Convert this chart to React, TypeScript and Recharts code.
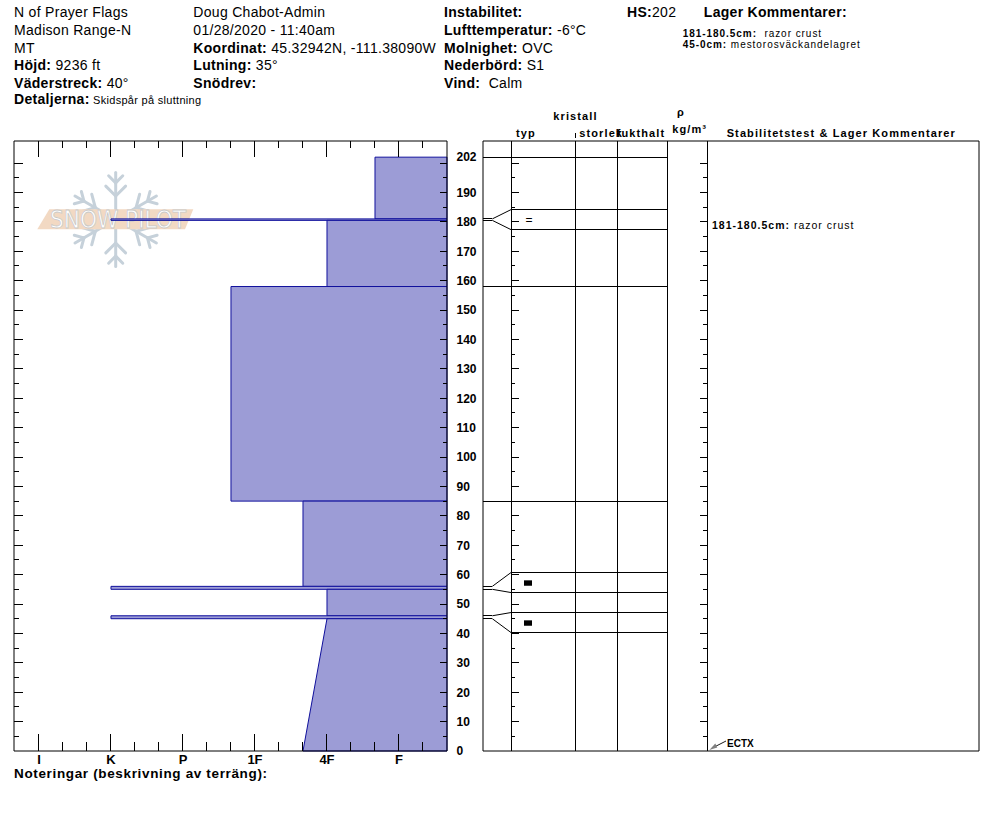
import React from 'react';
import { ComposedChart, XAxis, YAxis, ReferenceArea, ReferenceLine, Scatter } from 'recharts';

const FONT = '"Liberation Sans", Arial, Helvetica, sans-serif';
const INK = '#000000';
const LAYER_FILL = '#9c9cd6';
const LAYER_STROKE = '#10109c';

// ---------------- data ----------------
const snowDepth = 202;
const hardnessTicks = [1, 2, 3, 4, 5, 6, 7, 8, 9, 10, 11, 12, 13, 14, 15, 16, 17];
const hardnessLabelValues = [17, 14, 11, 8, 5, 2];
const hardnessLabels = ['I', 'K', 'P', '1F', '4F', 'F'];
const heightTicks = [5, 10, 15, 20, 25, 30, 35, 40, 45, 50, 55, 60, 65, 70, 75, 80, 85, 90, 95, 100,
  105, 110, 115, 120, 125, 130, 135, 140, 145, 150, 155, 160, 165, 170, 175, 180, 185, 190, 195, 200];
const heightLabels = [0, 10, 20, 30, 40, 50, 60, 70, 80, 90, 100, 110, 120, 130, 140, 150, 160, 170, 180, 190];

// layers (cm) and hand hardness in steps (F-=1, F=2, F+=3, 4F-=4, 4F=5, 4F+=6 ... K=14, I=17)
const layerTop = [202, 181, 180.5, 158, 85, 56, 55, 46, 45];
const layerBottom = [181, 180.5, 158, 85, 56, 55, 46, 45, 0];
const hardnessAtTop = [3, 14, 5, 9, 6, 14, 5, 14, 5];
const hardnessAtBottom = [3, 14, 5, 9, 6, 14, 5, 14, 6];
const grainSymbols = ['', '=', '', '', '', 'block', '', 'block', ''];

const stabilityTests = [{ height: 0, label: 'ECTX' }];
const tableComments = [{ top: 181, bottom: 180.5, text: 'razor crust' }];
const headerComments = [
  { range: '181-180.5cm:', text: '  razor crust' },
  { range: '45-0cm:', text: ' mestorosväckandelagret' },
];

const siteLines = ['N of Prayer Flags', 'Madison Range-N', 'MT'];
const siteFields = [['Höjd:', ' 9236 ft'], ['Väderstreck:', ' 40°']];
const observerLines = ['Doug Chabot-Admin', '01/28/2020 - 11:40am'];
const observerFields = [['Koordinat:', ' 45.32942N, -111.38090W'], ['Lutning:', ' 35°'], ['Snödrev:', '']];
const weatherFields = [['Instabilitet:', ''], ['Lufttemperatur:', ' -6°C'], ['Molnighet:', ' OVC'], ['Nederbörd:', ' S1'], ['Vind:', '  Calm']];

// ---------------- layout constants ----------------
const H_MAX = 207.5;
const HARD_MAX = 18.04;
const PLOT_H = 610;
const PX_PER_CM = PLOT_H / H_MAX;
const COL_TYP = 28, COL_SIZE = 92, COL_MOIST = 134, COL_RHO = 184, COL_STAB = 224, TABLE_W = 496;

// ---------------- ticks ----------------
const bottomTick = (p: any) => {
  const v = p.payload.value;
  const li = hardnessLabelValues.indexOf(v);
  return (
    <g>
      <line x1={p.x} x2={p.x} y1={p.y} y2={p.y - (li >= 0 ? 17 : 9)} stroke={INK} shapeRendering="crispEdges" />
      {li >= 0 && (
        <text x={p.x} y={p.y + 13.3} textAnchor="middle" fontFamily={FONT} fontWeight="bold" fontSize={13} fill={INK}>
          {hardnessLabels[li]}
        </text>
      )}
    </g>
  );
};
const topTick = (p: any) => {
  const major = hardnessLabelValues.includes(p.payload.value);
  return <line x1={p.x} x2={p.x} y1={p.y} y2={p.y + (major ? 16 : 7)} stroke={INK} shapeRendering="crispEdges" />;
};
const leftTick = (p: any) => {
  const v = p.payload.value;
  return <line x1={p.x} x2={p.x + (v % 10 === 0 ? 9 : 5)} y1={p.y} y2={p.y} stroke={INK} shapeRendering="crispEdges" />;
};
const rightTick = (p: any) => {
  const v = p.payload.value;
  const hasLine = heightTicks.includes(v);
  const hasLabel = heightLabels.includes(v) || v === snowDepth;
  return (
    <g>
      {hasLine && <line x1={p.x - (v % 10 === 0 ? 7 : 4)} x2={p.x} y1={p.y} y2={p.y} stroke={INK} shapeRendering="crispEdges" />}
      {hasLabel && (
        <text x={p.x + 9.5} y={p.y + 4.3} fontFamily={FONT} fontWeight="bold" fontSize={12} fill={INK}>{v}</text>
      )}
    </g>
  );
};

function LayerPolygon(p: any) {
  const { x, y, width, height, hTop, hBot, hMax } = p;
  const right = x + width;
  const topLeft = right - (width * hTop) / hMax;
  const botLeft = right - (width * hBot) / hMax;
  return (
    <polygon
      points={`${topLeft},${y} ${right},${y} ${right},${y + height} ${botLeft},${y + height}`}
      fill={LAYER_FILL}
      stroke={LAYER_STROKE}
      strokeWidth={1}
    />
  );
}

const axisCommon = { tickSize: 0, tickMargin: 0, tickLine: false, interval: 0 as const, allowDataOverflow: true };

function HardnessChart() {
  const anchors = layerTop.map((t, i) => ({ x: hardnessAtTop[i], y: t }));
  const rightTicks = Array.from(new Set([...heightLabels, ...heightTicks, snowDepth])).sort((a, b) => a - b);
  return (
    <ComposedChart width={500} height={800} margin={{ top: 140, left: 13, right: 52, bottom: 48 }} data={anchors}>
      <XAxis type="number" dataKey="x" domain={[0, HARD_MAX]} reversed orientation="bottom" height={1}
        ticks={hardnessTicks} {...axisCommon} axisLine={{ stroke: INK }} tick={bottomTick} />
      <XAxis xAxisId="t" type="number" dataKey="x" domain={[0, HARD_MAX]} reversed orientation="top" height={1}
        ticks={hardnessTicks} {...axisCommon} axisLine={{ stroke: INK }} tick={topTick} />
      <YAxis type="number" dataKey="y" domain={[0, H_MAX]} orientation="left" width={1}
        ticks={heightTicks} {...axisCommon} axisLine={{ stroke: INK }} tick={leftTick} />
      <YAxis yAxisId="r" type="number" dataKey="y" domain={[0, H_MAX]} orientation="right" width={1}
        ticks={rightTicks} {...axisCommon} axisLine={{ stroke: INK }} tick={rightTick} />
      {layerTop.map((top, i) => {
        const hTop = hardnessAtTop[i];
        const hBot = hardnessAtBottom[i];
        const hMax = Math.max(hTop, hBot);
        const sloped = hTop !== hBot;
        const props: any = {};
        if (sloped) props.shape = (sp: any) => <LayerPolygon {...sp} hTop={hTop} hBot={hBot} hMax={hMax} />;
        return (
          <ReferenceArea key={`layer-${i}`} x1={hMax} x2={0} y1={layerBottom[i]} y2={top}
            fill={LAYER_FILL} fillOpacity={1} stroke={LAYER_STROKE} strokeWidth={1} ifOverflow="visible" {...props} />
        );
      })}
      <Scatter dataKey="y" shape={() => <g />} isAnimationActive={false} />
    </ComposedChart>
  );
}

// bands for thin layers shown in the table: 20px tall, pushed apart to keep a 20px gap
function computeBands() {
  const idx = grainSymbols.map((g, i) => (g ? i : -1)).filter((i) => i >= 0);
  const half = 10 / PX_PER_CM;
  const minDist = 40 / PX_PER_CM;
  const centers = idx.map((i) => (layerTop[i] + layerBottom[i]) / 2);
  for (let k = 0; k < centers.length - 1; k++) {
    const d = centers[k] - centers[k + 1];
    if (d < minDist) {
      const push = (minDist - d) / 2;
      centers[k] += push;
      centers[k + 1] -= push;
    }
  }
  return idx.map((i, k) => ({ layer: i, center: centers[k], top: centers[k] + half, bottom: centers[k] - half }));
}

const grainShape = (p: any) => {
  const { cx, cy, payload } = p;
  if (payload.sym === 'block') return <rect x={cx - 4} y={cy - 2.2} width={8} height={5.4} fill={INK} />;
  return (
    <text x={cx + 1} y={cy + 4.5} textAnchor="middle" fontFamily={FONT} fontSize={12} fill={INK}>{payload.sym}</text>
  );
};
const stabilityShape = (p: any) => {
  const { cx, cy, payload } = p;
  const tx = cx + 2.3, ty = cy - 1;
  return (
    <g>
      <line x1={tx + 5} y1={ty - 3} x2={cx + 19} y2={cy - 10} stroke={INK} strokeWidth={0.9} />
      <polygon points={`${tx},${ty} ${tx + 6},${ty - 6.5} ${tx + 8},${ty - 2.5}`} fill="#808080" />
      <text x={cx + 20} y={cy - 4.3} fontFamily={FONT} fontWeight="bold" fontSize={10} fill={INK}>{payload.label}</text>
    </g>
  );
};
const commentShape = (p: any) => {
  const { cx, cy, payload } = p;
  return (
    <text x={cx} y={cy + 9.5} fontFamily={FONT} fontSize={10.5} letterSpacing={1} fill={INK} style={{ whiteSpace: 'pre' }}>
      <tspan fontWeight="bold">{`${payload.top}-${payload.bottom}cm:`}</tspan>
      <tspan>{` ${payload.text}`}</tspan>
    </text>
  );
};

function LayerTable() {
  const bands = computeBands();
  const bandEdges = new Set<number>();
  bands.forEach((b) => { bandEdges.add(layerTop[b.layer]); bandEdges.add(layerBottom[b.layer]); });
  const plainEdges = Array.from(new Set([...layerTop, ...layerBottom])).filter((h) => h > 0 && !bandEdges.has(h));

  const segs: Array<[number, number, number, number]> = [];
  plainEdges.forEach((h) => segs.push([0, h, COL_RHO, h]));
  bands.forEach((b) => {
    const t = layerTop[b.layer];
    const bo = layerBottom[b.layer];
    const knee = 9.3;
    segs.push([0, t, knee, t], [knee, t, COL_TYP, b.top], [COL_TYP, b.top, COL_RHO, b.top]);
    segs.push([0, bo, knee, bo], [knee, bo, COL_TYP, b.bottom], [COL_TYP, b.bottom, COL_RHO, b.bottom]);
  });
  heightTicks.forEach((h) => {
    segs.push([COL_TYP, h, COL_TYP + (h % 10 === 0 ? 8 : 4), h]);
    segs.push([COL_STAB - (h % 10 === 0 ? 7 : 4), h, COL_STAB, h]);
  });

  const grainPoints = bands.map((b) => ({ x: COL_TYP + 17, y: b.center, sym: grainSymbols[b.layer] }));
  const testPoints = stabilityTests.map((t) => ({ x: COL_STAB, y: t.height, label: t.label }));
  const commentPoints = tableComments.map((c) => ({ x: COL_STAB + 5, y: (c.top + c.bottom) / 2, ...c }));

  return (
    <ComposedChart width={520} height={800} margin={{ top: 140, left: 12, right: 10, bottom: 48 }} data={grainPoints}>
      <XAxis type="number" dataKey="x" domain={[0, TABLE_W]} orientation="bottom" height={1}
        {...axisCommon} tick={false} axisLine={{ stroke: INK }} />
      <XAxis xAxisId="t" type="number" dataKey="x" domain={[0, TABLE_W]} orientation="top" height={1}
        {...axisCommon} tick={false} axisLine={{ stroke: INK }} />
      <YAxis type="number" dataKey="y" domain={[0, H_MAX]} orientation="left" width={1}
        {...axisCommon} tick={false} axisLine={{ stroke: INK }} />
      <YAxis yAxisId="r" type="number" dataKey="y" domain={[0, H_MAX]} orientation="right" width={1}
        {...axisCommon} tick={false} axisLine={{ stroke: INK }} />
      {[COL_TYP, COL_SIZE, COL_MOIST, COL_RHO, COL_STAB].map((c) => (
        <ReferenceLine key={`col-${c}`} x={c} stroke={INK} strokeWidth={1} ifOverflow="visible" shapeRendering="crispEdges" />
      ))}
      {segs.map(([x1, y1, x2, y2], i) => (
        <ReferenceLine key={`seg-${i}`} segment={[{ x: x1, y: y1 }, { x: x2, y: y2 }]} stroke={INK} strokeWidth={1}
          ifOverflow="visible" shapeRendering={y1 === y2 ? 'crispEdges' : 'auto'} />
      ))}
      <Scatter data={grainPoints} dataKey="y" shape={grainShape} isAnimationActive={false} />
      <Scatter data={testPoints} dataKey="y" shape={stabilityShape} isAnimationActive={false} />
      <Scatter data={commentPoints} dataKey="y" shape={commentShape} isAnimationActive={false} />
    </ComposedChart>
  );
}

function Watermark() {
  const cx = 115.7, cy = 219.5, R = 47;
  const lines: Array<[number, number, number, number]> = [];
  [90, 30, 150, 210, 270, 330].forEach((a) => {
    const rad = (a * Math.PI) / 180;
    const ux = Math.cos(rad), uy = -Math.sin(rad);
    lines.push([cx + ux * 6, cy + uy * 6, cx + ux * R, cy + uy * R]);
    [[0.5, 14], [0.78, 10]].forEach(([f, L]) => {
      const bx = cx + ux * R * f, by = cy + uy * R * f;
      [45, -45].forEach((d) => {
        const r2 = rad + (d * Math.PI) / 180;
        lines.push([bx, by, bx + Math.cos(r2) * L, by - Math.sin(r2) * L]);
      });
    });
  });
  return (
    <svg width={994} height={840} style={{ position: 'absolute', left: 0, top: 0 }}>
      {lines.map(([a, b, c, d], i) => (
        <line key={i} x1={a} y1={b} x2={c} y2={d} stroke="#c6d1da" strokeWidth={3} strokeLinecap="round" />
      ))}
      <polygon points="49.3,209.3 193.3,209.3 185,229.3 37.3,229.3" fill="#f2d9c3" />
      <text x={50} y={227.5} fontFamily='"DejaVu Sans", sans-serif' fontSize={24} fill="#ffffff" stroke="#c9c9c9"
        strokeWidth={0.8} textLength={136} lengthAdjust="spacingAndGlyphs">SNOW PILOT</text>
    </svg>
  );
}

function Field({ x, y, label, value, size = 14, valueSize, spacing = 0.3 }: any) {
  return (
    <text x={x} y={y} fontFamily={FONT} fontSize={size} letterSpacing={spacing} fill={INK} style={{ whiteSpace: 'pre' }}>
      {label ? <tspan fontWeight="bold">{label}</tspan> : null}
      {value ? <tspan fontSize={valueSize ?? size}>{value}</tspan> : null}
    </text>
  );
}

function HeaderText() {
  const rows = [17.3, 35, 52.7, 70.4, 88.1];
  return (
    <svg width={994} height={840} style={{ position: 'absolute', left: 0, top: 0, pointerEvents: 'none' }}>
      {siteLines.map((t, i) => <Field key={`s${i}`} x={14} y={rows[i]} value={t} />)}
      {siteFields.map(([l, v], i) => <Field key={`sf${i}`} x={14} y={rows[i + 3]} label={l} value={v} />)}
      <Field x={14} y={103.7} label="Detaljerna:" value=" Skidspår på sluttning" valueSize={11} spacing={0.3} />
      {observerLines.map((t, i) => <Field key={`o${i}`} x={193.3} y={rows[i]} value={t} />)}
      {observerFields.map(([l, v], i) => <Field key={`of${i}`} x={193.3} y={rows[i + 2]} label={l} value={v} />)}
      {weatherFields.map(([l, v], i) => <Field key={`w${i}`} x={444} y={rows[i]} label={l} value={v} />)}
      <Field x={627} y={rows[0]} label="HS:" value={String(snowDepth)} />
      <Field x={703.8} y={rows[0]} label="Lager Kommentarer:" />
      {headerComments.map((c, i) => (
        <Field key={`hc${i}`} x={682.7} y={36.8 + 11 * i} label={c.range} value={c.text} size={10} spacing={0.95} />
      ))}

      {/* table column headers */}
      <g fontFamily={FONT} fontWeight="bold" fontSize={11} letterSpacing={1.1} fill={INK}>
        <text x={553.3} y={120}>kristall</text>
        <text x={516} y={136.5}>typ</text>
        <text x={579.3} y={136.5}>storlek</text>
        <text x={616.7} y={136.5}>fukthalt</text>
        <text x={681} y={116} textAnchor="middle">ρ</text>
        <text x={672.3} y={133}>kg/m³</text>
        <text x={726.7} y={136.5}>Stabilitetstest &amp; Lager Kommentarer</text>
      </g>
      <line x1={575.5} x2={575.5} y1={133} y2={138} stroke={INK} />

      <text x={14} y={778.3} fontFamily={FONT} fontWeight="bold" fontSize={13.5} letterSpacing={0.65} fill={INK}>
        Noteringar (beskrivning av terräng):
      </text>
    </svg>
  );
}

export default function App() {
  return (
    <div style={{ position: 'absolute', left: 0, top: 0, width: 994, height: 840, background: '#ffffff' }}>
      <Watermark />
      <div style={{ position: 'absolute', left: 0, top: 0 }}>
        <HardnessChart />
      </div>
      <div style={{ position: 'absolute', left: 470, top: 0 }}>
        <LayerTable />
      </div>
      <HeaderText />
    </div>
  );
}
